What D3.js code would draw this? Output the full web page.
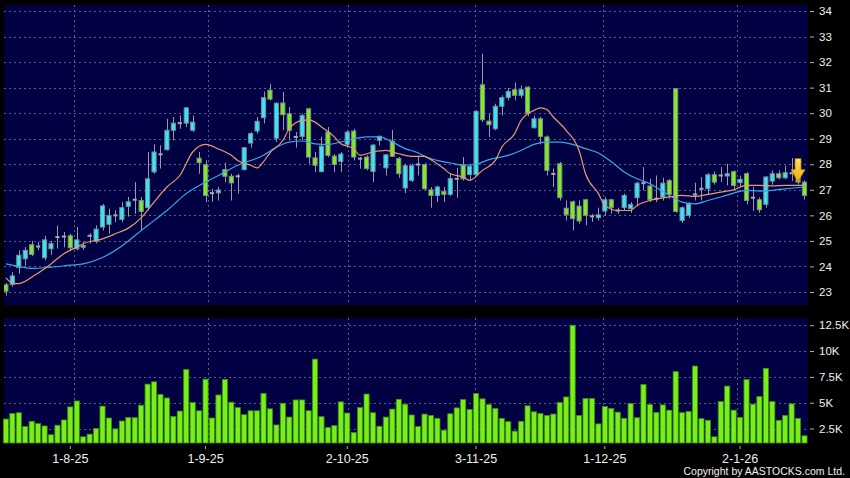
<!DOCTYPE html>
<html>
<head>
<meta charset="utf-8">
<script src="https://cdn.jsdelivr.net/npm/d3@7"></script>
<style>
  body { margin: 0; background: #000; }
  svg { display: block; }
  text { font-family: "Liberation Sans", Arial, sans-serif; fill: #f0f0f0; }
</style>
</head>
<body>
<div id="chart"></div>
<script>
// trading days shown on the chart
var dates = [
  "2025-07-18","2025-07-21","2025-07-22","2025-07-23","2025-07-24","2025-07-25","2025-07-28","2025-07-29","2025-07-30","2025-07-31",
  "2025-08-01","2025-08-04","2025-08-05","2025-08-06","2025-08-07","2025-08-08","2025-08-11","2025-08-12","2025-08-13","2025-08-14",
  "2025-08-15","2025-08-18","2025-08-19","2025-08-20","2025-08-21","2025-08-22","2025-08-25","2025-08-26","2025-08-27","2025-08-28",
  "2025-08-29","2025-09-01","2025-09-02","2025-09-03","2025-09-04","2025-09-05","2025-09-08","2025-09-09","2025-09-10","2025-09-11",
  "2025-09-12","2025-09-15","2025-09-16","2025-09-17","2025-09-18","2025-09-19","2025-09-22","2025-09-23","2025-09-24","2025-09-25",
  "2025-09-26","2025-09-29","2025-09-30","2025-10-02","2025-10-03","2025-10-06","2025-10-08","2025-10-09","2025-10-10","2025-10-13",
  "2025-10-14","2025-10-15","2025-10-16","2025-10-17","2025-10-20","2025-10-21","2025-10-22","2025-10-23","2025-10-24","2025-10-27",
  "2025-10-28","2025-10-30","2025-10-31","2025-11-03","2025-11-04","2025-11-05","2025-11-06","2025-11-07","2025-11-10","2025-11-11",
  "2025-11-12","2025-11-13","2025-11-14","2025-11-17","2025-11-18","2025-11-19","2025-11-20","2025-11-21","2025-11-24","2025-11-25",
  "2025-11-26","2025-11-27","2025-11-28","2025-12-01","2025-12-02","2025-12-03","2025-12-04","2025-12-05","2025-12-08","2025-12-09",
  "2025-12-10","2025-12-11","2025-12-12","2025-12-15","2025-12-16","2025-12-17","2025-12-18","2025-12-19","2025-12-22","2025-12-23",
  "2025-12-24","2025-12-29","2025-12-30","2025-12-31","2026-01-02","2026-01-05","2026-01-06","2026-01-07","2026-01-08","2026-01-09",
  "2026-01-12","2026-01-13","2026-01-14","2026-01-15","2026-01-16"
];

var opens = [
  23.28,23.29,23.95,24.30,24.85,24.78,24.34,24.69,25.15,25.17, 25.20,24.69,24.75,25.20,24.98,25.54,25.65,26.00,25.84,26.35,
  26.61,26.58,26.30,27.70,28.39,28.57,29.33,29.61,29.61,29.33, 28.24,27.98,26.87,26.88,27.79,27.53,27.53,27.79,28.83,29.30,
  29.82,30.90,29.02,30.40,29.98,29.07,29.09,30.17,28.25,27.71, 29.26,28.32,28.11,28.78,29.30,28.22,28.28,27.72,28.94,27.86,
  28.91,28.22,27.07,27.37,27.99,27.99,27.00,26.78,26.94,26.82, 27.43,27.99,27.60,27.60,31.11,29.69,29.39,30.27,30.61,30.92,
  30.70,31.02,29.43,29.78,29.07,27.62,28.02,26.28,26.53,26.36, 26.61,25.96,25.91,26.17,26.61,26.19,26.30,26.26,26.69,27.26,
  27.15,26.65,26.72,27.36,30.96,25.80,26.00,26.82,27.04,27.04, 27.59,27.56,27.54,27.71,27.28,27.63,26.69,26.61,26.43,27.34,
  27.63,27.47,27.65,27.63,27.30
];
var highs = [
  23.35,23.78,24.63,24.76,25.00,24.95,25.20,25.00,25.60,25.35, 25.28,25.55,24.97,25.30,25.61,26.45,26.26,26.20,26.52,26.72,
  27.30,26.72,28.48,28.78,28.74,29.78,29.85,29.91,30.24,29.91, 28.48,28.15,27.04,27.11,28.06,27.63,27.63,28.67,29.26,29.85,
  30.85,31.15,30.43,30.83,30.24,29.26,29.98,30.21,28.48,29.07, 29.46,28.40,28.48,29.33,29.39,28.28,28.35,28.80,29.13,28.40,
  29.35,28.28,28.02,28.02,28.28,28.06,27.11,27.17,27.11,27.63, 27.86,28.28,28.02,30.11,32.33,29.98,30.37,30.70,30.98,31.20,
  31.08,31.05,29.91,29.85,29.13,27.83,28.09,26.58,26.58,26.58, 26.65,26.06,26.30,26.72,26.65,26.30,26.85,26.52,27.32,27.89,
  27.43,27.56,27.47,27.43,30.98,26.35,26.52,27.28,27.50,27.65, 27.72,27.89,28.02,27.76,27.56,27.69,27.11,26.70,27.54,27.76,
  27.76,27.95,28.24,27.72,27.37
];
var lows = [
  22.86,23.21,23.72,24.04,24.40,24.63,24.24,24.45,24.70,24.75, 24.63,24.63,24.65,24.90,24.90,25.41,25.28,25.74,25.74,25.95,
  26.06,25.41,26.20,27.63,27.83,28.54,28.93,29.39,29.46,29.26, 27.63,26.52,26.52,26.58,27.30,26.58,26.85,27.76,28.65,29.20,
  29.60,30.50,28.87,29.33,28.93,28.65,28.93,28.02,27.69,27.69, 28.28,27.69,27.69,28.65,28.15,27.83,27.76,27.30,28.74,27.56,
  28.28,27.47,26.87,27.30,27.56,26.98,26.30,26.52,26.52,26.76, 26.69,27.36,27.37,27.56,29.65,29.07,29.33,29.91,30.50,30.50,
  30.60,29.88,29.39,28.78,27.56,27.11,26.58,25.80,25.41,25.67, 25.61,25.74,25.80,25.98,26.06,26.06,26.20,26.10,26.35,26.98,
  26.52,26.52,26.58,26.65,26.10,25.70,25.90,26.58,26.58,26.82, 27.20,27.30,27.17,27.04,27.10,26.43,26.17,26.10,26.30,27.20,
  27.41,27.41,27.34,27.20,26.62
];
var closes = [
  23.03,23.63,24.44,24.63,24.47,24.78,25.04,24.89,25.15,25.17, 24.73,25.04,24.82,25.20,25.46,26.37,26.00,26.00,26.30,26.53,
  26.61,26.15,27.43,28.48,28.39,29.33,29.61,29.61,30.21,29.65, 28.06,26.78,26.87,26.99,27.53,27.27,27.53,28.65,29.20,29.68,
  30.61,30.55,30.39,29.94,29.33,29.07,29.91,28.28,27.96,28.71, 28.35,27.99,28.40,29.26,28.28,28.22,27.83,28.75,29.09,28.37,
  28.31,27.63,27.94,27.94,27.99,27.04,26.78,27.11,26.82,27.44, 27.43,27.43,27.92,30.07,29.74,29.55,30.27,30.61,30.85,30.70,
  30.92,30.00,29.78,29.09,27.76,27.62,26.69,26.02,25.87,25.78, 26.00,25.96,26.02,26.61,26.30,26.19,26.78,26.43,27.26,27.26,
  26.61,26.65,27.26,26.82,26.15,26.30,26.45,26.82,27.04,27.59, 27.30,27.56,27.63,27.17,27.41,26.58,26.69,26.22,27.50,27.63,
  27.47,27.67,27.65,27.30,26.78
];
var volumes = [
  3420,3960,4030,2690,3200,2980,2750,1900,2820,3330, 4600,5170,1700,1960,2500,4670,3520,2470,3230,3580,
  3550,4760,6800,7020,5810,5460,3680,4190,8230,5020, 4220,7280,3520,5750,7250,5050,4540,3840,4220,4220,
  5910,4410,2850,4950,3610,5270,5270,4220,9220,3650, 2600,2790,5080,4000,2120,4540,5840,4030,2720,3610,
  4380,5330,4860,3810,2690,3900,3770,3490,2340,3930, 4500,5300,4350,5900,5370,4820,4440,3490,3170,2250,
  3200,4700,4120,3960,3770,3900,5020,5560,12500,3770, 5400,5400,2950,4630,4440,4090,3490,4920,3550,6770,
  4820,4060,4790,4280,8010,4030,4160,8550,3460,3300, 1700,5110,6610,4280,3580,7250,4860,5590,8330,5110,
  3300,3770,4890,3490,1800
];

// moving average lines: [day index, price]
var ma10 = [
  [0,23.55],[1,23.35],[2,23.33],[3,23.42],[4,23.58],[6,23.91],[7,24.1],[9,24.5],[11,24.76],[12,24.89],
  [15,25.08],[17,25.28],[19,25.5],[21,25.9],[23,26.52],[25,27.11],[27,27.56],[29,28.48],[31,28.78],[33,28.6],
  [35,28.35],[36,28.15],[38,27.96],[39,27.86],[40,28.1],[41,28.45],[43,28.93],[44,29.39],[46,29.72],[47,29.74],
  [48,29.65],[49,29.46],[51,29.07],[52,28.8],[54,28.61],[55,28.35],[57,28.48],[59,28.54],[61,28.41],[63,28.31],
  [65,28.31],[66,28.18],[68,27.83],[69,27.63],[71,27.5],[72,27.37],[74,27.76],[76,28.15],[77,28.67],[79,29.2],
  [80,29.72],[82,30.11],[83,30.21],[84,30.14],[85,29.85],[87,29.33],[89,28.54],[90,27.63],[92,26.85],[93,26.39],
  [95,26.19],[97,26.19],[98,26.39],[100,26.58],[103,26.72],[105,26.78],[107,26.74],[109,26.82],[111,26.91],[113,27.0],
  [115,27.17],[117,27.17],[119,27.15],[121,27.17],[124,27.17]
];
var ma20 = [
  [0,24.1],[2,24.0],[4,23.92],[7,23.97],[10,24.05],[12,24.1],[15,24.35],[18,24.8],[20,25.2],[22,25.6],
  [25,26.19],[28,26.85],[31,27.3],[33,27.56],[36,27.96],[40,28.35],[42,28.67],[44,28.87],[46,28.91],[48,28.8],
  [50,28.78],[52,28.87],[54,29.0],[56,29.07],[58,29.07],[60,28.87],[62,28.61],[64,28.45],[65,28.31],[67,28.15],
  [69,28.05],[71,27.96],[73,28.0],[75,28.18],[78,28.35],[80,28.54],[82,28.78],[84,28.87],[86,28.87],[88,28.78],
  [90,28.61],[92,28.44],[94,28.1],[96,27.7],[98,27.43],[100,27.24],[103,26.78],[105,26.52],[107,26.45],[109,26.58],
  [111,26.72],[113,26.87],[115,26.98],[117,26.95],[119,26.98],[121,27.04],[124,27.11]
];

var priceTicks = [23,24,25,26,27,28,29,30,31,32,33,34];
var volumeTicks = [2500,5000,7500,10000,12500];
var volumeLabels = ["2.5K","5K","7.5K","10K","12.5K"];
var monthTicks = ["2025-08-01","2025-09-01","2025-10-02","2025-11-03","2025-12-01","2026-01-02"];
var monthLabels = ["1-8-25","1-9-25","2-10-25","3-11-25","1-12-25","2-1-26"];
var signalDate = "2026-01-15";
var signalPrice = 27.32;

var width = 850, height = 478;
var pricePanel = {left: 4, right: 808, top: 5, bottom: 305};
var volPanel = {left: 4, right: 808, top: 318, bottom: 443};

var svg = d3.select("#chart")
  .append("svg")
  .attr("width", width)
  .attr("height", height)
  .style("background", "#000");

var defs = svg.append("defs");
defs.append("clipPath").attr("id", "clipPrice")
  .append("rect")
  .attr("x", pricePanel.left).attr("y", pricePanel.top)
  .attr("width", pricePanel.right - pricePanel.left)
  .attr("height", pricePanel.bottom - pricePanel.top);
var grad = defs.append("linearGradient").attr("id", "arrowGrad")
  .attr("x1", 0).attr("y1", 0).attr("x2", 0).attr("y2", 1);
grad.append("stop").attr("offset", "0%").attr("stop-color", "#ffe46a");
grad.append("stop").attr("offset", "100%").attr("stop-color", "#f0a800");

// scales
var x = d3.scaleBand()
  .domain(dates)
  .range([2.7, 807.7])
  .paddingInner(0.2)
  .paddingOuter(0.1);
var cx = function(d) { return x(d) + x.bandwidth() / 2; };

// the vertical grid sits on its own slightly narrower spacing
var gridX = d3.scaleLinear()
  .domain([10, 114])
  .range([74, 736.7]);

var y = d3.scaleLinear()
  .domain([22.49, 34.235])
  .range([pricePanel.bottom, pricePanel.top]);

var yVol = d3.scaleLinear()
  .domain([1100, 13200])
  .range([volPanel.bottom, volPanel.top]);

// panel backgrounds
[pricePanel, volPanel].forEach(function(p) {
  svg.append("rect")
    .attr("x", p.left).attr("y", p.top)
    .attr("width", p.right - p.left)
    .attr("height", p.bottom - p.top)
    .attr("fill", "#000042");
});

var gridColor = "#5c5c8c";

// horizontal grid
svg.append("g").selectAll("line")
  .data(priceTicks)
  .enter().append("line")
  .attr("x1", pricePanel.left).attr("x2", pricePanel.right)
  .attr("y1", function(d) { return Math.round(y(d)) + 0.5; })
  .attr("y2", function(d) { return Math.round(y(d)) + 0.5; })
  .attr("stroke", gridColor).attr("stroke-dasharray", "2,3");

svg.append("g").selectAll("line")
  .data(volumeTicks)
  .enter().append("line")
  .attr("x1", volPanel.left).attr("x2", volPanel.right)
  .attr("y1", function(d) { return Math.round(yVol(d)) + 0.5; })
  .attr("y2", function(d) { return Math.round(yVol(d)) + 0.5; })
  .attr("stroke", gridColor).attr("stroke-dasharray", "2,3");

// vertical grid
[pricePanel, volPanel].forEach(function(p) {
  svg.append("g").selectAll("line")
    .data(monthTicks)
    .enter().append("line")
    .attr("x1", function(d) { return Math.round(gridX(dates.indexOf(d))) + 0.5; })
    .attr("x2", function(d) { return Math.round(gridX(dates.indexOf(d))) + 0.5; })
    .attr("y1", p.top).attr("y2", p.bottom)
    .attr("stroke", gridColor).attr("stroke-dasharray", "2,3");
});

// right axes
var axisP = svg.append("g")
  .attr("transform", "translate(" + (pricePanel.right + 2) + ",0)")
  .call(d3.axisRight(y).tickValues(priceTicks).tickSize(4).tickPadding(5));
var axisV = svg.append("g")
  .attr("transform", "translate(" + (volPanel.right + 2) + ",0)")
  .call(d3.axisRight(yVol).tickValues(volumeTicks).tickSize(4).tickPadding(5)
    .tickFormat(function(d, i) { return volumeLabels[i]; }));
[axisP, axisV].forEach(function(a) {
  a.select(".domain").remove();
  a.selectAll(".tick line").attr("stroke", "#b0b0b0");
  a.selectAll(".tick text")
    .attr("fill", "#f0f0f0")
    .style("font-family", "'Liberation Sans', Arial, sans-serif")
    .style("font-size", "11.5px");
});

// bottom date axis
var axisX = svg.append("g")
  .attr("transform", "translate(0," + (volPanel.bottom + 3) + ")")
  .call(d3.axisBottom(x).tickValues(monthTicks).tickSize(3).tickPadding(5)
    .tickFormat(function(d, i) { return monthLabels[i]; }));
axisX.select(".domain").remove();
axisX.selectAll(".tick line").attr("stroke", "#b0b0b0");
axisX.selectAll(".tick text")
  .attr("fill", "#f0f0f0")
  .style("font-family", "'Liberation Sans', Arial, sans-serif")
  .style("font-size", "12.5px");

// volume bars
svg.append("g").selectAll("rect")
  .data(volumes)
  .enter().append("rect")
  .attr("x", function(d, i) { return x(dates[i]); })
  .attr("y", function(d) { return yVol(d); })
  .attr("width", x.bandwidth())
  .attr("height", function(d) { return volPanel.bottom - yVol(d); })
  .attr("fill", "#76f018")
  .attr("stroke", "#3f8a10")
  .attr("stroke-width", 0.8);

// candles
var candles = dates.map(function(d, i) {
  return {date: d, open: opens[i], high: highs[i], low: lows[i], close: closes[i]};
});
var upColor = "#36e6f4", downColor = "#80ec1c", flatColor = "#a4aab4";

var plot = svg.append("g").attr("clip-path", "url(#clipPrice)");

plot.append("g").selectAll("line")
  .data(candles)
  .enter().append("line")
  .attr("x1", function(d) { return Math.round(cx(d.date)) + 0.5; })
  .attr("x2", function(d) { return Math.round(cx(d.date)) + 0.5; })
  .attr("y1", function(d) { return y(d.high); })
  .attr("y2", function(d) { return y(d.low); })
  .attr("stroke", "#9a9aa6")
  .attr("stroke-width", 1);

plot.append("g").selectAll("rect")
  .data(candles)
  .enter().append("rect")
  .attr("x", function(d) { return x(d.date) + 0.5; })
  .attr("width", x.bandwidth() - 1)
  .attr("y", function(d) {
    if (d.open == d.close) return y(d.close) - 1;
    return y(Math.max(d.open, d.close));
  })
  .attr("height", function(d) {
    if (d.open == d.close) return 2;
    return Math.max(1.5, Math.abs(y(d.open) - y(d.close)));
  })
  .attr("fill", function(d) {
    if (d.close > d.open) return upColor;
    if (d.close < d.open) return downColor;
    return flatColor;
  })
  .attr("stroke", function(d) { return d.open == d.close ? "none" : "#7d8c98"; })
  .attr("stroke-width", 1);

// moving averages
var maLine = d3.line()
  .x(function(p) { return cx(dates[p[0]]); })
  .y(function(p) { return y(p[1]); })
  .curve(d3.curveMonotoneX);

plot.append("path")
  .datum(ma20)
  .attr("d", maLine)
  .attr("fill", "none")
  .attr("stroke", "#3aa6e6")
  .attr("stroke-width", 1.2);

plot.append("path")
  .datum(ma10)
  .attr("d", maLine)
  .attr("fill", "none")
  .attr("stroke", "#e89a6a")
  .attr("stroke-width", 1.2);

// signal arrow
var ax = cx(signalDate), ay = y(signalPrice);
svg.append("path")
  .attr("d", "M" + (ax - 3) + "," + (ay - 23) + " h6 v11 h4 l-7,12 l-7,-12 h4 z")
  .attr("fill", "url(#arrowGrad)")
  .attr("stroke", "#b88000")
  .attr("stroke-width", 0.8);

// copyright
svg.append("text")
  .attr("x", 845)
  .attr("y", 475)
  .attr("text-anchor", "end")
  .style("font-size", "10.5px")
  .text("Copyright by AASTOCKS.com Ltd.");
</script>
</body>
</html>
